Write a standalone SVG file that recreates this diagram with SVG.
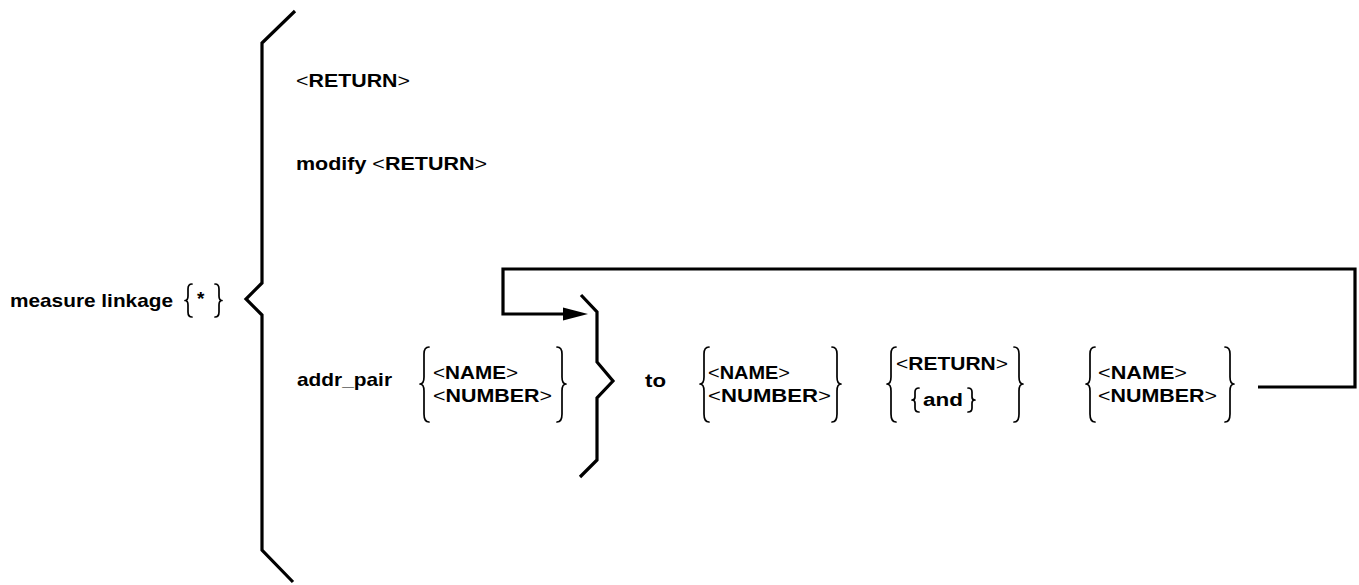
<svg xmlns="http://www.w3.org/2000/svg" width="1359" height="585" viewBox="0 0 1359 585">
<style>
text{font-family:"Liberation Sans",Arial,sans-serif;font-weight:bold;fill:#000}
.b{font-size:19px}
.s{font-size:18px}
.lt{font-weight:normal}
.br{fill:none;stroke:#000;stroke-width:1.7;stroke-linecap:round;stroke-linejoin:round}
.big{fill:none;stroke:#000;stroke-width:3.2;stroke-linejoin:miter}
</style>
<rect width="1359" height="585" fill="#fff"/>
<g id="command">
<text class="b" x="10" y="307" textLength="163" lengthAdjust="spacingAndGlyphs">measure  linkage</text>
<path class="br" d="M192,284 Q188,284 188,289 L188,296 Q188,300.5 185,300.5 Q188,300.5 188,305 L188,312 Q188,317 192,317"/>
<text class="b" x="197" y="305">*</text>
<path class="br" d="M215,284 Q219,284 219,289 L219,296 Q219,300.5 222,300.5 Q219,300.5 219,305 L219,312 Q219,317 215,317"/>
</g>
<g id="main-brace">
<path class="big" d="M295,11 L262,43 L262,283 L246,299 L262,315 L262,550 L293,582"/>
</g>
<g id="opt-return">
<text class="b" x="296" y="87" textLength="114" lengthAdjust="spacingAndGlyphs"><tspan class="lt">&lt;</tspan>RETURN<tspan class="lt">&gt;</tspan></text>
</g>
<g id="opt-modify">
<text class="b" x="296" y="170" textLength="191" lengthAdjust="spacingAndGlyphs">modify  <tspan class="lt">&lt;</tspan>RETURN<tspan class="lt">&gt;</tspan></text>
</g>
<g id="opt-addr">
<text class="b" x="297" y="386" textLength="95" lengthAdjust="spacingAndGlyphs">addr_pair</text>
</g>
<g id="group1">
<path class="br" d="M429,347 Q424,347 424,354 L424,377 Q424,384 420,384 Q424,384 424,391 L424,414 Q424,422 429,422"/>
<text class="s" x="433" y="379" textLength="85" lengthAdjust="spacingAndGlyphs"><tspan class="lt">&lt;</tspan>NAME<tspan class="lt">&gt;</tspan></text>
<text class="s" x="433" y="402" textLength="119" lengthAdjust="spacingAndGlyphs"><tspan class="lt">&lt;</tspan>NUMBER<tspan class="lt">&gt;</tspan></text>
<path class="br" d="M557,347 Q562,347 562,354 L562,377 Q562,384 566,384 Q562,384 562,391 L562,414 Q562,422 557,422"/>
</g>
<g id="loop-brace">
<path class="big" d="M581,295 L597,312 L597,362 L613,381 L597,398 L597,460 L580,477"/>
</g>
<g id="to">
<text class="b" x="645" y="387" textLength="21" lengthAdjust="spacingAndGlyphs">to</text>
</g>
<g id="group2">
<path class="br" d="M709,347 Q704,347 704,354 L704,377 Q704,384 700,384 Q704,384 704,391 L704,414 Q704,422 709,422"/>
<text class="s" x="708" y="379" textLength="82" lengthAdjust="spacingAndGlyphs"><tspan class="lt">&lt;</tspan>NAME<tspan class="lt">&gt;</tspan></text>
<text class="s" x="708" y="402" textLength="123" lengthAdjust="spacingAndGlyphs"><tspan class="lt">&lt;</tspan>NUMBER<tspan class="lt">&gt;</tspan></text>
<path class="br" d="M832,347 Q837,347 837,354 L837,377 Q837,384 841,384 Q837,384 837,391 L837,414 Q837,422 832,422"/>
</g>
<g id="group3">
<path class="br" d="M896,347 Q891,347 891,354 L891,377 Q891,384 887,384 Q891,384 891,391 L891,414 Q891,422 896,422"/>
<text class="s" x="896" y="370" textLength="112" lengthAdjust="spacingAndGlyphs"><tspan class="lt">&lt;</tspan>RETURN<tspan class="lt">&gt;</tspan></text>
<path class="br" d="M919,388 Q915,388 915,392 L915,397 Q915,400 912,400 Q915,400 915,403 L915,408 Q915,412 919,412"/>
<text class="s" x="923" y="406" textLength="40" lengthAdjust="spacingAndGlyphs">and</text>
<path class="br" d="M968,388 Q972,388 972,392 L972,397 Q972,400 975,400 Q972,400 972,403 L972,408 Q972,412 968,412"/>
<path class="br" d="M1014,347 Q1019,347 1019,354 L1019,377 Q1019,384 1023,384 Q1019,384 1019,391 L1019,414 Q1019,422 1014,422"/>
</g>
<g id="group4">
<path class="br" d="M1095,347 Q1090,347 1090,354 L1090,377 Q1090,384 1086,384 Q1090,384 1090,391 L1090,414 Q1090,422 1095,422"/>
<text class="s" x="1098" y="379" textLength="89" lengthAdjust="spacingAndGlyphs"><tspan class="lt">&lt;</tspan>NAME<tspan class="lt">&gt;</tspan></text>
<text class="s" x="1098" y="402" textLength="119" lengthAdjust="spacingAndGlyphs"><tspan class="lt">&lt;</tspan>NUMBER<tspan class="lt">&gt;</tspan></text>
<path class="br" d="M1225,347 Q1230,347 1230,354 L1230,377 Q1230,384 1234,384 Q1230,384 1230,391 L1230,414 Q1230,422 1225,422"/>
</g>
<g id="connectors">
<polyline fill="none" stroke="#000" stroke-width="3.2" stroke-linejoin="miter" points="1258,387 1355,387 1355,269 503,269 503,314 566,314"/>
<polygon points="563,307.5 588,314 563,320.5" fill="#000"/>
</g>
</svg>
